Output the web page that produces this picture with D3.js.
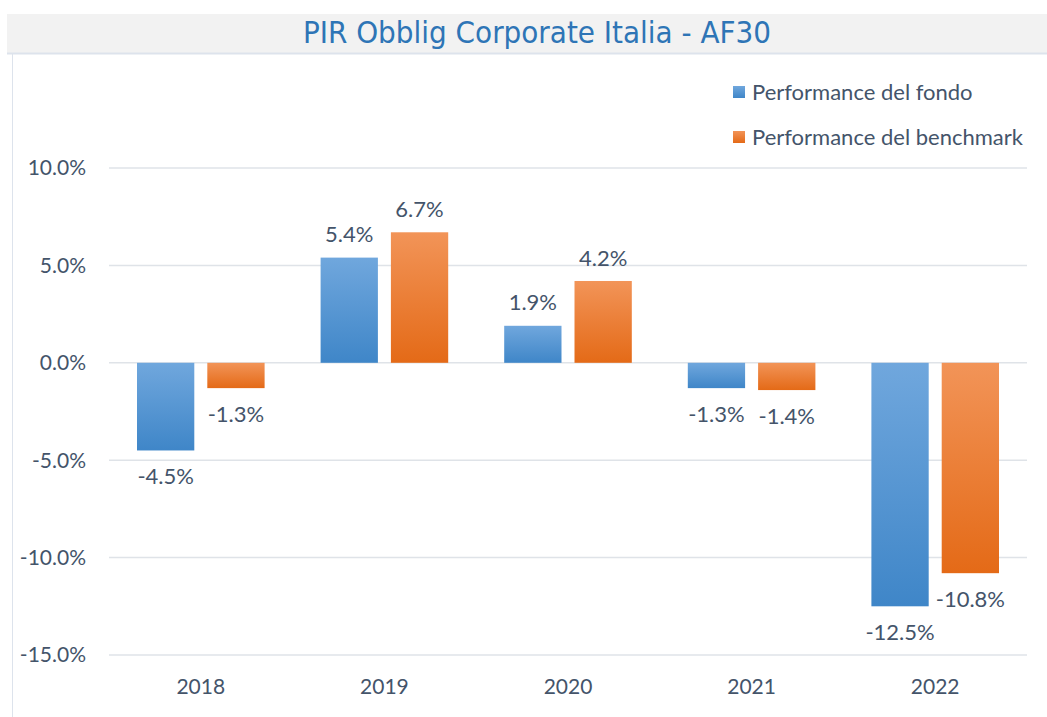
<!DOCTYPE html>
<html>
<head>
<meta charset="utf-8">
<script src="https://cdn.jsdelivr.net/npm/d3@7.9.0/dist/d3.min.js"></script>
<style>
  body { margin: 0; background: #fff; }
  svg { display: block; font-family: Lato, "Open Sans", sans-serif; }
</style>
</head>
<body>
<svg id="chart" width="1047" height="717"></svg>
<script>
const years = ['2018', '2019', '2020', '2021', '2022'];
const fondo = [-4.5, 5.4, 1.9, -1.3, -12.5];
const benchmark = [-1.3, 6.7, 4.2, -1.4, -10.8];
const seriesNames = ['Performance del fondo', 'Performance del benchmark'];
const yTicks = [10, 5, 0, -5, -10, -15];

const svg = d3.select('#chart');
const textColor = '#44546a';

// gradients for the bars
const defs = svg.append('defs');
const grads = [
  { id: 'gBlue', top: '#70a7dd', bottom: '#3f86c8' },
  { id: 'gOrange', top: '#f29458', bottom: '#e46a17' },
];
grads.forEach((g) => {
  const lg = defs.append('linearGradient').attr('id', g.id)
    .attr('x1', 0).attr('y1', 0).attr('x2', 0).attr('y2', 1);
  lg.append('stop').attr('offset', '0%').attr('stop-color', g.top);
  lg.append('stop').attr('offset', '100%').attr('stop-color', g.bottom);
});

// title band
svg.append('rect').attr('x', 7).attr('y', 14).attr('width', 1040).attr('height', 39).attr('fill', '#f2f2f2');
svg.append('line').attr('x1', 7).attr('x2', 1047).attr('y1', 53.5).attr('y2', 53.5).attr('stroke', '#dde3ec').attr('stroke-width', 2);
svg.append('line').attr('x1', 12.5).attr('x2', 12.5).attr('y1', 54).attr('y2', 717).attr('stroke', '#dde3ec').attr('stroke-width', 1);
svg.append('text')
  .attr('x', 537).attr('y', 43)
  .attr('text-anchor', 'middle')
  .attr('fill', '#2e75b6')
  .attr('font-size', 31)
  .attr('font-family', '"DejaVu Sans Condensed", "DejaVu Sans", sans-serif')
  .attr('font-stretch', 'condensed')
  .text('PIR Obblig Corporate Italia - AF30');

const x = d3.scaleBand().domain(years).range([109, 1027]);
const y = d3.scaleLinear().domain([-15, 10]).range([655, 168]);
const inner = d3.scaleBand().domain([0, 1]).range([28, x.bandwidth() - 28]).paddingInner(0.185);

// gridlines
svg.append('g')
  .selectAll('line')
  .data(yTicks)
  .join('line')
  .attr('x1', 109).attr('x2', 1027)
  .attr('y1', (d) => y(d)).attr('y2', (d) => y(d))
  .attr('stroke', '#dfe3e8').attr('stroke-width', 1.5);

// y tick labels
svg.append('g')
  .selectAll('text')
  .data(yTicks)
  .join('text')
  .attr('x', 86).attr('y', (d) => y(d))
  .attr('dy', '0.35em')
  .attr('text-anchor', 'end')
  .attr('fill', textColor)
  .attr('font-size', 21)
  .text((d) => d.toFixed(1) + '%');

// x labels
svg.append('g')
  .selectAll('text')
  .data(years)
  .join('text')
  .attr('x', (d) => x(d) + x.bandwidth() / 2)
  .attr('y', 687).attr('dy', '0.35em')
  .attr('text-anchor', 'middle')
  .attr('fill', textColor)
  .attr('font-size', 21)
  .text((d) => d);

const series = [fondo, benchmark];
series.forEach((vals, si) => {
  const g = svg.append('g');
  const data = years.map((yr, i) => ({ yr, v: vals[i] }));
  g.selectAll('rect')
    .data(data)
    .join('rect')
    .attr('x', (d) => x(d.yr) + inner(si))
    .attr('width', inner.bandwidth())
    .attr('y', (d) => y(Math.max(0, d.v)))
    .attr('height', (d) => Math.abs(y(d.v) - y(0)))
    .attr('fill', `url(#${grads[si].id})`);
  g.selectAll('text')
    .data(data)
    .join('text')
    .attr('x', (d) => x(d.yr) + inner(si) + inner.bandwidth() / 2)
    .attr('y', (d) => d.v >= 0 ? y(d.v) - 23 : y(d.v) + 26)
    .attr('dy', '0.35em')
    .attr('text-anchor', 'middle')
    .attr('fill', textColor)
    .attr('font-size', 22)
    .text((d) => d.v.toFixed(1) + '%');
});

// legend
const legend = svg.append('g');
seriesNames.forEach((name, i) => {
  const ly = 92 + i * 45;
  legend.append('rect').attr('x', 733).attr('y', ly - 6).attr('width', 12).attr('height', 12)
    .attr('fill', `url(#${grads[i].id})`);
  legend.append('text').attr('x', 752).attr('y', ly).attr('dy', '0.35em')
    .attr('fill', textColor).attr('font-size', 22).text(name);
});
</script>
</body>
</html>
